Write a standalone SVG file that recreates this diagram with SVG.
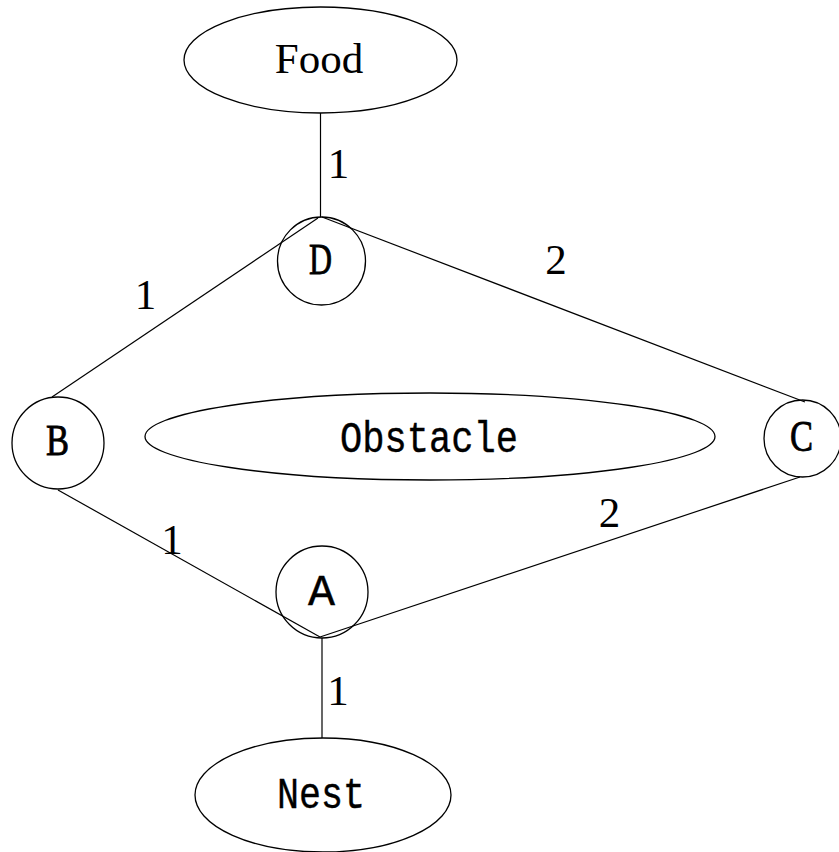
<svg xmlns="http://www.w3.org/2000/svg" width="839" height="852" viewBox="0 0 839 852">
<style>
.shape{fill:none;stroke:#000;stroke-width:1.3}
.edge{stroke:#000;stroke-width:1.2;fill:none}
.serif{font-family:"Liberation Serif","Times New Roman",serif;font-size:43px;fill:#000;text-anchor:middle}
.letter{font-family:"Liberation Serif","Times New Roman",serif;font-size:45px;fill:#000;stroke:#000;stroke-width:0.9;text-anchor:middle}
.mono{font-family:"Liberation Mono","Courier New",monospace;font-size:45px;fill:#000;stroke:#000;stroke-width:0.4;text-anchor:middle}
.num{font-family:"Liberation Serif","Times New Roman",serif;font-size:43px;fill:#000;text-anchor:middle}
</style>
<rect width="839" height="852" fill="#fff"/>
<g id="connectors">
<line class="edge" x1="320.5" y1="113" x2="320.5" y2="217"/>
<line class="edge" x1="318" y1="218" x2="52" y2="397"/>
<line class="edge" x1="322" y1="217" x2="805" y2="402"/>
<line class="edge" x1="58" y1="490" x2="320" y2="637"/>
<line class="edge" x1="320" y1="637" x2="800" y2="477"/>
<line class="edge" x1="322" y1="638" x2="322" y2="738"/>
</g>
<g id="labels">
<text class="num" x="338.5" y="178">1</text>
<text class="num" x="145.5" y="309">1</text>
<text class="num" x="556" y="274">2</text>
<text class="num" x="172" y="554">1</text>
<text class="num" x="609.5" y="527">2</text>
<text class="num" x="338" y="705">1</text>
</g>
<g id="food">
<ellipse class="shape" cx="320.5" cy="60" rx="136.5" ry="53"/>
<text class="serif" x="319" y="73">Food</text>
</g>
<g id="D">
<circle class="shape" cx="321.5" cy="261" r="44"/>
<text class="letter" x="320.5" y="274" textLength="23" lengthAdjust="spacingAndGlyphs">D</text>
</g>
<g id="B">
<circle class="shape" cx="58" cy="443" r="46"/>
<text class="letter" x="57.5" y="455" textLength="23" lengthAdjust="spacingAndGlyphs">B</text>
</g>
<g id="obstacle">
<ellipse class="shape" cx="430" cy="436.5" rx="285" ry="43.5"/>
<text class="mono" x="429" y="452" textLength="178" lengthAdjust="spacingAndGlyphs">Obstacle</text>
</g>
<g id="C">
<circle class="shape" cx="802.5" cy="438.5" r="38.5"/>
<text class="letter" x="801.5" y="451" textLength="23" lengthAdjust="spacingAndGlyphs">C</text>
</g>
<g id="A">
<circle class="shape" cx="322" cy="592" r="46"/>
<text class="mono" x="321.5" y="605" stroke-width="0.8">A</text>
</g>
<g id="nest">
<ellipse class="shape" cx="323" cy="795" rx="128" ry="57"/>
<text class="mono" x="321" y="808" textLength="88" lengthAdjust="spacingAndGlyphs">Nest</text>
</g>
</svg>
